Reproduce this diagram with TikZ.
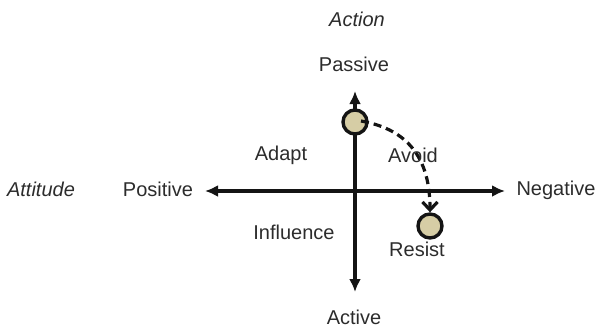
\documentclass[tikz,border=0pt]{standalone}
\usepackage{fontspec}
\setmainfont{Liberation Sans}
\usetikzlibrary{arrows.meta}
\definecolor{khaki}{RGB}{214,205,165}
\definecolor{ink}{RGB}{20,20,20}
\tikzset{
  axis/.style={line width=3.2pt, draw=ink, {Latex[length=13pt,width=12pt]}-{Latex[length=13pt,width=12pt]}},
  stance/.style={circle, draw=ink, line width=3.4pt, fill=khaki, minimum size=24pt, inner sep=0pt},
  lbl/.style={text=ink!90, inner sep=1pt}
}

\begin{document}
\begin{tikzpicture}[x=1pt,y=-1pt,font=\fontsize{20}{23}\selectfont]
        \useasboundingbox (0,0) rectangle (595,327);
        \coordinate (top) at (355,91);
        \coordinate (bot) at (355,292);
        \coordinate (lft) at (205,191);
        \coordinate (rgt) at (505,191);
        \draw[axis] (top) -- (bot);
        \draw[axis] (lft) -- (rgt);
        \node[stance] (passive) at (355,122) {};
        \node[stance] (resist) at (430,226) {};
        \draw[line width=3.2pt, draw=ink, dash pattern=on 8pt off 5pt,
              -{Straight Barb[length=8pt,width=15pt]}]
             (passive.center) ++(6pt,1pt) coordinate (start)
             (start) .. controls (400,128) and (430,150) .. (resist.north);
        \node[lbl, font=\fontsize{20}{23}\selectfont\itshape] (action) at (357,19) {Action};
        \node[lbl] (passivelbl) at (354,64) {Passive};
        \node[lbl] (activelbl) at (354,317) {Active};
        \node[lbl, font=\fontsize{20}{23}\selectfont\itshape] (attitude) at (41,189) {Attitude};
        \node[lbl] (positive) at (158,189) {Positive};
        \node[lbl] (negative) at (556,190) {Negative};
        \node[lbl] (adapt) at (281,155) {Adapt};
        \node[lbl] (avoid) at (413,155) {Avoid};
        \node[lbl] (influence) at (294,232) {Influence};
        \node[lbl] (resistlbl) at (417,249) {Resist};
    \end{tikzpicture}
\end{document}
